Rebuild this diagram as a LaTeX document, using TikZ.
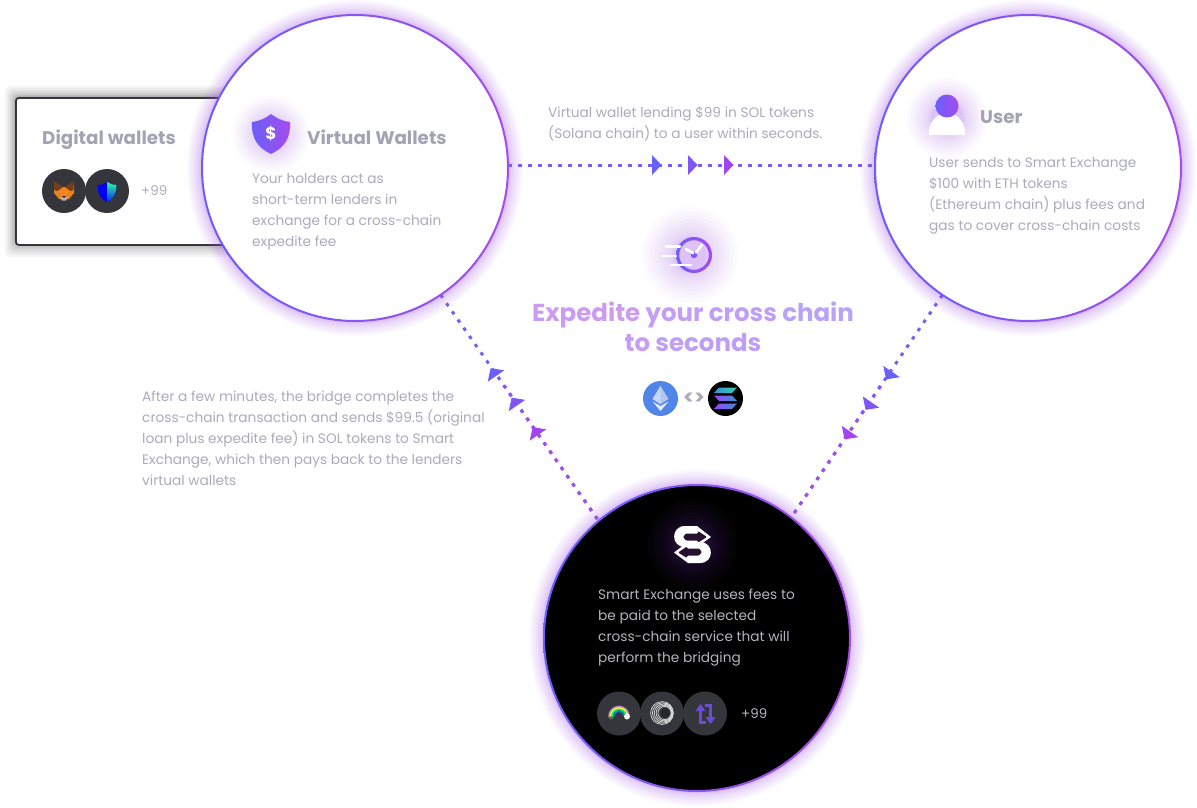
\documentclass[tikz,border=0pt]{standalone}
\usepackage{fontspec}
\setmainfont{Poppins}
\usetikzlibrary{calc}
\definecolor{txt}{HTML}{ABABBB}
\definecolor{head}{HTML}{A3A3B3}
\definecolor{blu}{HTML}{6A5FFB}
\definecolor{vio}{HTML}{A64CEC}
\definecolor{glw}{HTML}{A855F7}
\definecolor{dotb}{HTML}{7A5BF8}
\definecolor{dotv}{HTML}{A04EEE}
\definecolor{disc}{HTML}{35363C}
\definecolor{foxa}{HTML}{E8821E}
\definecolor{foxb}{HTML}{763D16}
\definecolor{foxc}{HTML}{C0AD9E}
\definecolor{foxd}{HTML}{F5841F}
\definecolor{foxe}{HTML}{233447}
\definecolor{ethc}{HTML}{5285E8}
\definecolor{solt}{HTML}{2FD0B5}
\definecolor{solb}{HTML}{3C8FD0}
\definecolor{solm}{HTML}{9945FF}
\definecolor{swapc}{HTML}{6B4CD6}
\definecolor{setxt}{HTML}{B4B4BC}
\definecolor{secut}{HTML}{26112F}
\tikzset{
 big/.style={circle,minimum size=306pt,inner sep=0pt},
 dotline/.style={line width=3pt,dash pattern=on 3.5pt off 6.5pt},
 body/.style={anchor=north west,align=left,inner sep=0pt,font=\fontsize{13.7}{21}\selectfont,text=txt},
 title/.style={anchor=west,inner sep=0pt,font=\fontsize{18.3}{21}\selectfont\bfseries,text=head},
 small/.style={anchor=west,inner sep=0pt,font=\fontsize{13.4}{16}\selectfont},
 icondisc/.style={circle,minimum size=44pt,inner sep=0pt,fill=disc},
}
\newcommand{\softglow}[4]{%
 \foreach \k in {1,...,14}{
  \fill[glw,opacity=0.028] (#1,#2) circle ({#3+#4*\k*\k/196});
 }}
\newcommand{\rim}[3]{%
 \foreach \k in {1,...,14}{
  \fill[glw,opacity=0.04] (#1,#2) circle ({#3+15*\k*\k/196});
 }}
\newcommand{\ringshade}[3]{%
 \shade[left color=blu,right color=vio,even odd rule] (#1,#2) circle ({#3+1}) circle ({#3-1});}
\newcommand{\arrowhead}[4]{%
 \definecolor{tmpc}{HTML}{#4}%
 \begin{scope}[shift={(#1,#2)},rotate=#3]
 \fill[tmpc] (0,-10) -- (9.5,0) -- (0,10) -- cycle;
 \end{scope}}
\newcommand{\bandline}[6]{%
 \begin{scope}
 \clip (#3,#4) rectangle (#5,#6);
 \draw[dotline,bandc] (#1) -- (#2);
 \end{scope}}
\begin{document}
\begin{tikzpicture}[x=1pt,y=-1pt]
\useasboundingbox (0,0) rectangle (1197,807);
\fill[white] (0,0) rectangle (1197,807);
% digital wallets card
\foreach \k in {1,...,10}{
 \fill[black,opacity=0.04,rounded corners=6pt] ({15-\k*\k*0.10},{97-\k*\k*0.11}) rectangle (300,{244+\k*\k*0.13});
}
\node[draw=disc,line width=1.8pt,fill=white,rounded corners=3pt,anchor=north west,minimum width=285pt,minimum height=147pt,inner sep=0pt] (card) at (15,97) {};
\node[title] (dwt) at (42,140) {Digital wallets};
\node[icondisc] (fox) at (64,191) {};
\node[icondisc] (shield) at (107,191) {};
\node[small,text=txt] (p1) at (141,191) {+99};
% fox
\fill[foxa] (54,185) -- (58,187) -- (70,187) -- (74,185) -- (74,193) -- (69,199) -- (59,199) -- (54,193) -- cycle;
\fill[foxb] (54,181) -- (63,187) -- (58,191) -- (54,190) -- cycle;
\fill[foxb] (73.5,181) -- (65,187) -- (70,191) -- (73.5,190) -- cycle;
\fill[foxd] (58,191) -- (64,187) -- (70,191) -- (67,196) -- (61,196) -- cycle;
\fill[foxc] (60,197) -- (68,197) -- (66,200.5) -- (62,200.5) -- cycle;
\fill[foxe] (62,196) -- (66,196) -- (64,198) -- cycle;
% trust shield
\fill[blue] (97.5,185) .. controls (102,185) and (105,184) .. (107,182) .. controls (110,184) and (113,185) .. (116.5,185) .. controls (116.5,194) and (113,199) .. (107,202) .. controls (101,199) and (97.5,194) .. (97.5,185) -- cycle;
\shade[top color=green!55!cyan!80!white,bottom color=blue!85!cyan] (107,182) .. controls (110,184) and (113,185) .. (116.5,185) .. controls (116.5,194) and (113,199) .. (107,202) -- cycle;

% glows behind circles
\rim{355}{168}{153}
\rim{1028}{168}{153}
\rim{697}{638}{153}
% main circles
\node[big,fill=white] (vw) at (355,168) {};
\node[big,fill=white] (usr) at (1028,168) {};
\node[big,fill=black] (se) at (697,638) {};
\ringshade{355}{168}{153}
\ringshade{1028}{168}{153}
\ringshade{697}{638}{153}
% connectors
\colorlet{bandc}{dotb}
\draw[dotline,dotb] (vw.1) -- (usr.179);
\draw[dotline,dotb] (vw.-56) -- (se.130);
\draw[dotline,dotb] (usr.-124) -- (se.52);
\colorlet{bandc}{dotv}
\bandline{vw.-56}{se.130}{430}{415}{610}{530}
\bandline{usr.-124}{se.52}{780}{415}{960}{530}
\colorlet{bandc}{dotb!50!dotv}
\bandline{vw.-56}{se.130}{430}{385}{610}{415}
\bandline{usr.-124}{se.52}{780}{385}{960}{415}
\arrowhead{652}{165}{0}{6A60FB}
\arrowhead{688}{165}{0}{7F55F6}
\arrowhead{724}{165}{0}{A245F0}
\arrowhead{496}{376}{124.5}{6A60FB}
\arrowhead{517}{405.5}{124.5}{7F55F6}
\arrowhead{538}{435}{124.5}{A245F0}
\arrowhead{891.5}{371.5}{235.5}{6A60FB}
\arrowhead{871}{402}{235.5}{7F55F6}
\arrowhead{850}{431.5}{235.5}{A245F0}

% Virtual wallets
\softglow{271}{134}{14}{24}
\shade[left color=blu,right color=vio] (252,122) .. controls (260,121) and (266,118) .. (271,114) .. controls (276,118) and (282,121) .. (290,122) .. controls (291,138) and (284,148) .. (271,154) .. controls (258,148) and (251,138) .. (252,122) -- cycle;
\node[inner sep=0pt,text=white,font=\fontsize{17}{17}\selectfont\bfseries] (dollar) at (271,134) {\$};
\node[title] (vwt) at (307,137.5) {Virtual Wallets};
\node[body] (vwb) at (252,173) {Your holders act as\\short-term lenders in\\exchange for a cross-chain\\expedite fee};
% User
\softglow{947}{118}{16}{24}
\fill[white] (929,135) .. controls (928,122) and (937,113) .. (947,113) .. controls (957,113) and (966,122) .. (965,135) -- cycle;
\shade[left color=blu,right color=vio] (947,106) circle (11.5);
\node[title] (ut) at (980,117.5) {User};
\node[body] (ub) at (929,157) {User sends to Smart Exchange\\\$100 with ETH tokens\\(Ethereum chain) plus fees and\\gas to cover cross-chain costs};
% top text
\node[body] (tt) at (548,106) {Virtual wallet lending \$99 in SOL tokens\\(Solana chain) to a user within seconds.};
% left text
\node[body] (lt) at (142,391) {After a few minutes, the bridge completes the\\cross-chain transaction and sends \$99.5 (original\\loan plus expedite fee) in SOL tokens to Smart\\Exchange, which then pays back to the lenders\\virtual wallets};
% centre icon
\softglow{690}{255}{16}{32}
\shade[left color=blu,right color=vio,even odd rule] (694,255) circle (18) circle (14.8);
\fill[blu!70!vio] (694,255) circle (3.2);
\draw[white,line width=2.6pt,line cap=round] (686,249) -- (693,253);
\draw[white,line width=2.6pt,line cap=round] (696,252.5) -- (702,245);
\draw[white,line width=2.6pt,line cap=round] (666,246.5) -- (680,246.5);
\draw[white,line width=2.6pt,line cap=round] (663,256) -- (676,256);
\draw[white,line width=2.6pt,line cap=round] (671,265) -- (691,265);
% headline
\definecolor{ta}{HTML}{CC9BF2}\definecolor{tb}{HTML}{C49DF4}\definecolor{tc}{HTML}{BF9FF6}\definecolor{td}{HTML}{B9A3F9}
\node[inner sep=0pt,font=\fontsize{24.5}{30}\selectfont\bfseries,align=center] (hl) at (693,326.5) {\textcolor{ta}{Expedite} \textcolor{tb}{your} \textcolor{tc}{cross} \textcolor{td}{chain}\\\textcolor{tb}{to} \textcolor{tc}{seconds}};
% chains
\node[circle,minimum size=35pt,inner sep=0pt,fill=ethc] (eth) at (660.5,398.5) {};
\fill[white,opacity=.55] (660.5,386) -- (668.5,399) -- (660.5,404) -- (652.5,399) -- cycle;
\fill[white,opacity=.3] (660.5,386) -- (660.5,404) -- (652.5,399) -- cycle;
\fill[white,opacity=.85] (660.5,411) -- (652.5,401.5) -- (660.5,406) -- (668.5,401.5) -- cycle;
\node[inner sep=0pt,text=txt,font=\fontsize{20}{20}\selectfont\bfseries] (ne) at (694,398.5) {<>};
\node[circle,minimum size=35pt,inner sep=0pt,fill=black] (sol) at (725.5,398.5) {};
\shade[left color=solb,right color=solt] (719,387.5) -- (737,387.5) -- (732,393) -- (714,393) -- cycle;
\shade[left color=solm,right color=solb] (714,395.5) -- (732,395.5) -- (737,401) -- (719,401) -- cycle;
\shade[left color=solm,right color=solb] (719,403.5) -- (737,403.5) -- (732,409) -- (714,409) -- cycle;
% smart exchange icon
\foreach \k in {1,...,12}{\fill[glw,opacity=0.022] (692.5,544.5) circle ({16+\k*\k*0.2});}
\fill[white] (685,526) -- (697,526) -- (711,537) -- (697,547) -- (685,547) .. controls (670.5,547) and (670.5,526) .. (685,526) -- cycle;
\fill[white] (700,542) -- (688,542) -- (674,552.5) -- (688,563) -- (700,563) .. controls (714.5,563) and (714.5,542) .. (700,542) -- cycle;
\fill[secut,rounded corners=1pt] (686,533.5) -- (698,533.5) -- (698,531) -- (707,537) -- (698,542.5) -- (698,540.5) -- (686,540.5) -- (683,537) -- cycle;
\fill[secut,rounded corners=1pt] (699,555.5) -- (687,555.5) -- (687,558) -- (678,552.5) -- (687,546.5) -- (687,548.5) -- (699,548.5) -- (702,552) -- cycle;
\node[body,text=setxt] (sb) at (598,589) {Smart Exchange uses fees to\\be paid to the selected\\cross-chain service that will\\perform the bridging};
\node[icondisc] (bow) at (619,713.5) {};
\node[icondisc] (spi) at (662,713.5) {};
\node[icondisc] (swp) at (705,713.5) {};
\node[small,text=setxt] (p2) at (741,714) {+99};
% rainbow
\fill[gray!60!disc] (611,716.5) circle (3);
\foreach \c/\r in {violet!50!white/10,yellow!75!white/8.5,green!65!cyan/7,cyan!60!blue/5.5}{
 \draw[\c,line width=1.7pt] ({619-\r},716.5) arc[start angle=180,end angle=360,radius=\r];
}
\fill[white!90!gray] (627,716.5) circle (3);
% spiral
\foreach \t in {0,0.2,0.4,0.6,0.8}{
 \draw[white!85!disc,line width=0.7pt] ({662+3.2*\t},713) circle ({11.4-6*\t});
}
\fill[disc!70!black] (665.2,713) circle (4.6);
% swap arrows
\draw[swapc,line width=3pt] (700.5,708) -- (700.5,722.5) -- (706,722.5);
\fill[swapc] (695.5,711) -- (700.5,704) -- (705.5,711) -- cycle;
\draw[swapc,line width=3pt] (710.5,719) -- (710.5,705.5) -- (705,705.5);
\fill[swapc] (705.5,717) -- (710.5,724) -- (715.5,717) -- cycle;
\end{tikzpicture}
\end{document}
